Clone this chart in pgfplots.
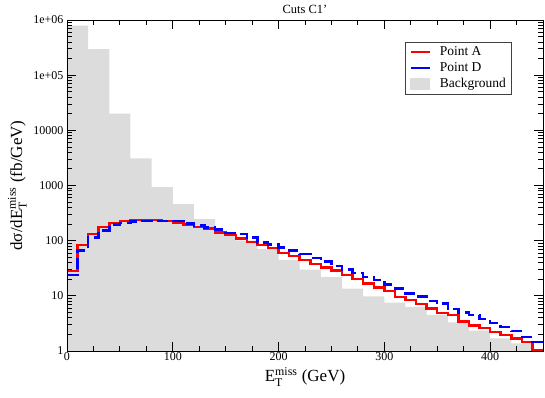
\documentclass[border=0pt]{standalone}
\usepackage{fontspec}
\setmainfont{Liberation Serif}
\usepackage{amsmath}
\usepackage{pgfplots}
\pgfplotsset{compat=1.18}
\definecolor{bgfill}{RGB}{220,220,220}
\definecolor{lineA}{RGB}{255,0,0}
\definecolor{lineD}{RGB}{0,0,255}

\begin{document}
\begin{tikzpicture}
\begin{axis}[
  width=476pt, height=331pt, scale only axis,
  xmin=0, xmax=450, ymin=1, ymax=1e6, ymode=log,
  axis on top,
  xtick={0,100,200,300,400}, xticklabels={0,100,200,300,400},
  minor xtick={25,50,75,125,150,175,225,250,275,325,350,375,425},
  ytick={1,10,100,1000,10000,100000,1000000},
  yticklabels={1,10,100,1000,10000,1e+05,1e+06},
  minor ytick={2,3,4,5,6,7,8,9,20,30,40,50,60,70,80,90,
    200,300,400,500,600,700,800,900,2000,3000,4000,5000,6000,7000,8000,9000,
    20000,30000,40000,50000,60000,70000,80000,90000,
    200000,300000,400000,500000,600000,700000,800000,900000},
  tick align=inside,
  major tick length=9pt, minor tick length=5pt,
  every tick/.style={black, line width=0.8pt},
  axis line style={line width=0.8pt},
  tick label style={font=\fontsize{12}{14}\selectfont},
  xticklabel style={yshift=2pt},
  xlabel={E$_{\text{T}}^{\text{miss}}$ (GeV)},
  ylabel={dσ/dE$_{\text{T}}^{\text{miss}}$ (fb/GeV)},
  label style={font=\fontsize{17}{20}\selectfont},
  title={Cuts C1’},
  title style={font=\fontsize{12.5}{14}\selectfont, at={(0.5,1)}, anchor=south, yshift=-1.5pt, inner sep=2pt},
  legend style={at={(rel axis cs:0.935,0.934)}, anchor=north east,
    draw=black!75, line width=0.6pt,
    font=\fontsize{13.5}{15}\selectfont,
    inner xsep=4pt, inner ysep=2.5pt, row sep=1.5pt,
    cells={anchor=west}},
  legend image code/.code={\draw[#1, solid] (0pt,0pt) -- (19pt,0pt);
    \path[draw=none, fill=none] (0pt,0pt) -- (27pt,0pt);},
]

% background, 20 GeV bins
\addplot[fill=bgfill, draw=none, const plot mark left, forget plot] coordinates {
  (0,790000) (20,295000) (40,20000) (60,3100) (80,930) (100,460) (120,245)
  (140,135) (160,100) (180,70) (200,45) (220,30) (240,22) (260,13.5)
  (280,9.8) (300,7.5) (320,6.3) (340,4.5) (360,3.3) (380,2.35) (400,1.7)
  (420,1.38) (440,1.0) (450,1.0)
} \closedcycle;

% Point A
\addplot[color=lineA, line width=2.5pt, const plot mark left] coordinates {
  (0,28) (10,83) (20,133) (30,176) (40,211) (50,225) (60,235) (70,238)
  (80,235) (90,225) (100,208) (110,197) (120,178) (130,165) (140,141)
  (150,126) (160,110) (170,95) (180,83) (190,73) (200,60) (210,53)
  (220,44.5) (230,37.7) (240,32.8) (250,28.5) (260,23.8) (270,20)
  (280,16.8) (290,14.3) (300,12.3) (310,9.6) (320,8.4) (330,7.1)
  (340,5.9) (350,4.9) (360,4.5) (370,3.4) (380,2.9) (390,2.6) (400,2.2)
  (410,1.95) (420,1.7) (430,1.45) (440,1.05) (450,1.05)
};
\addlegendentry{Point A}

% Point D
\addplot[color=lineD, line width=2.5pt, dash pattern=on 11pt off 5pt, const plot mark left] coordinates {
  (0,24) (10,67) (20,113) (30,154) (40,195) (50,210) (60,222) (70,228)
  (80,228) (90,225) (100,226) (110,205) (120,189) (130,172) (140,160)
  (150,137) (160,133) (170,113) (180,93) (190,86) (200,75) (210,66)
  (220,57) (230,49) (240,42) (250,35) (260,30) (270,26) (280,22)
  (290,19.5) (300,16) (310,13.5) (320,11) (330,9.8) (340,8.0) (350,7.2)
  (360,5.8) (370,5.0) (380,4.5) (390,3.8) (400,3.2) (410,2.7) (420,2.3)
  (430,1.8) (440,1.45) (450,1.45)
};
\addlegendentry{Point D}

\addlegendimage{legend image code/.code={\fill[bgfill] (0pt,-5.5pt) rectangle (19pt,5.5pt);
    \path[draw=none, fill=none] (0pt,0pt) -- (27pt,0pt);}}
\addlegendentry{Background}
\end{axis}
\pgfresetboundingbox
\path[use as bounding box] ([shift={(-67pt,-46pt)}]current axis.south west) rectangle ([shift={(2pt,20pt)}]current axis.north east);
\end{tikzpicture}
\end{document}
